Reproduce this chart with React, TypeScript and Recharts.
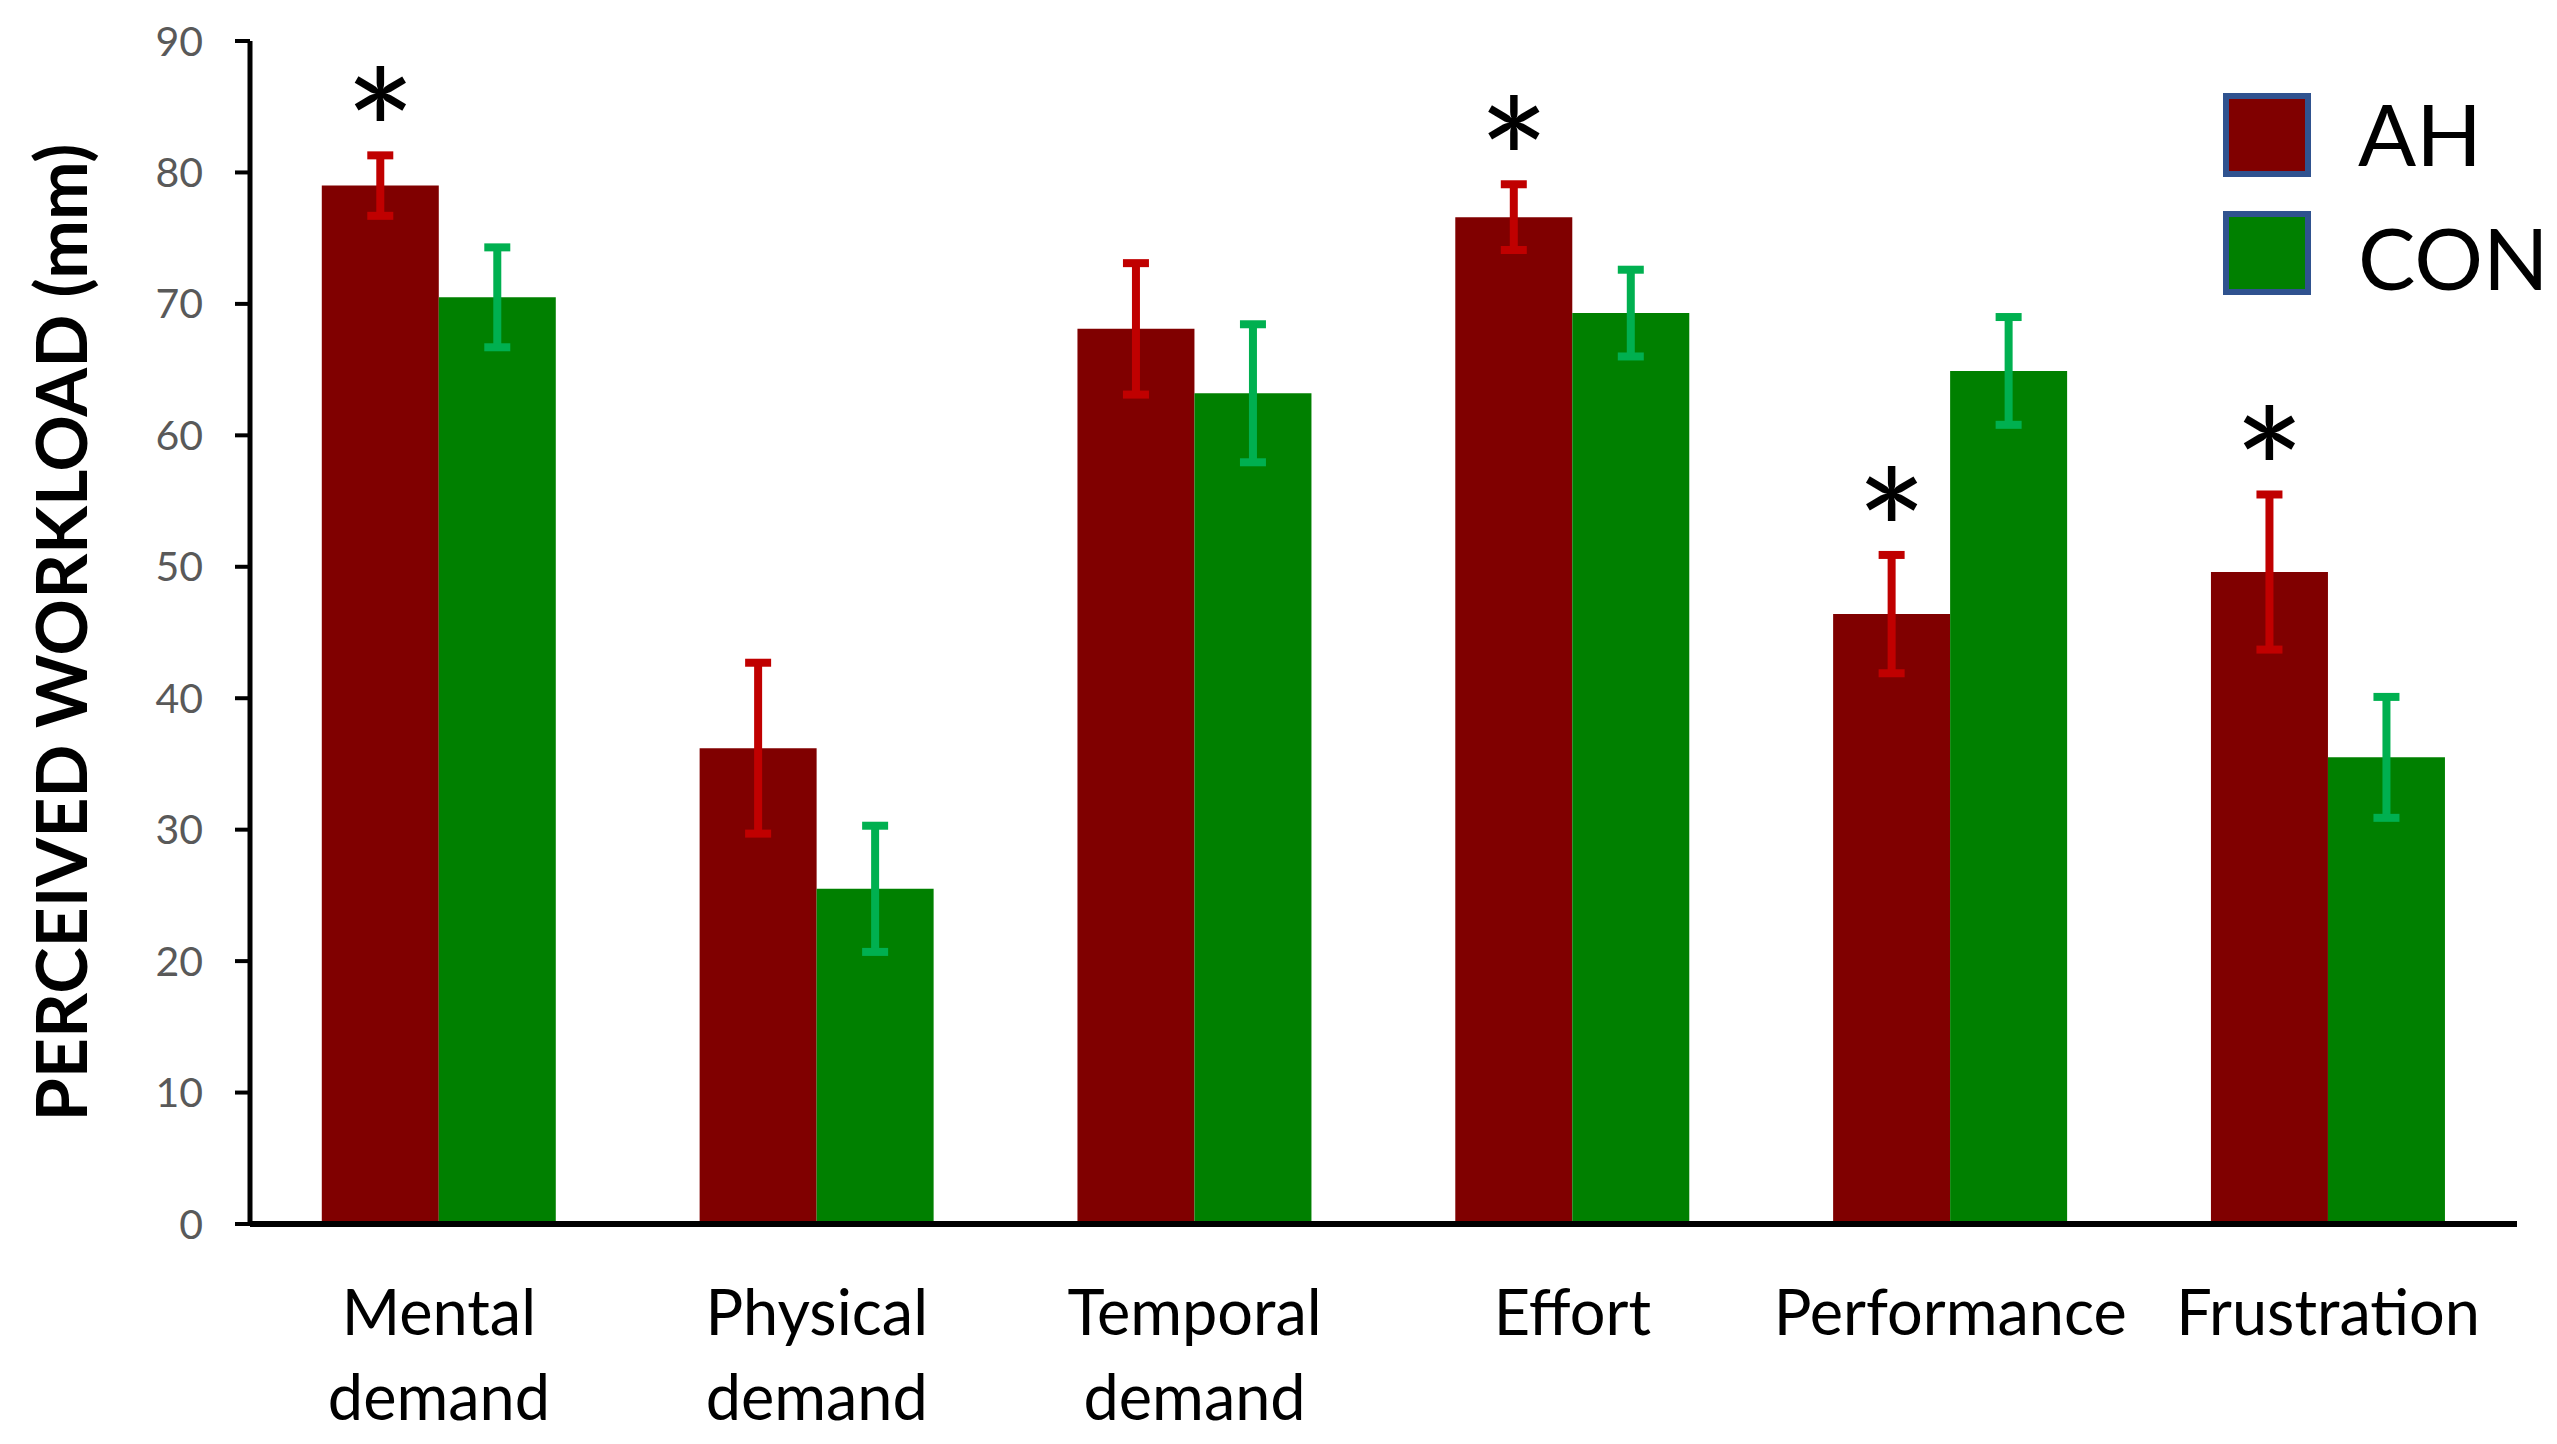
import { BarChart, Bar, XAxis, YAxis, ErrorBar, Legend } from 'recharts';

const categories = ['Mental demand', 'Physical demand', 'Temporal demand', 'Effort', 'Performance', 'Frustration'];
const ahMeans = [79.0, 36.2, 68.1, 76.6, 46.4, 49.6];
const ahErrors = [2.3, 6.5, 5.0, 2.5, 4.5, 5.9];
const conMeans = [70.5, 25.5, 63.2, 69.3, 64.9, 35.5];
const conErrors = [3.8, 4.8, 5.25, 3.3, 4.1, 4.6];
const ahSignificant = [true, false, false, true, true, true];
const yTicks = [0, 10, 20, 30, 40, 50, 60, 70, 80, 90];

const data = categories.map((category, i) => ({
  category,
  ah: ahMeans[i],
  ahErr: ahErrors[i],
  con: conMeans[i],
  conErr: conErrors[i],
}));

const FONT = "Lato, 'Open Sans', sans-serif";

const CategoryTick = (props: any) => {
  const { x, y, payload } = props;
  const words = String(payload.value).split(' ');
  const lines = words.length > 1 ? [words[0], words.slice(1).join(' ')] : words;
  return (
    <g>
      {lines.map((line, i) => (
        <text key={i} x={x} y={y + 109 + i * 85} textAnchor="middle" fontSize={63} fontFamily={FONT} fill="#000">
          {line}
        </text>
      ))}
    </g>
  );
};

// asterisk sits a fixed distance above the top error cap
const renderStar = (props: any) => {
  const { x, y, width, height, index } = props;
  if (!ahSignificant[index]) return null;
  const perUnit = height / ahMeans[index];
  const capY = y - ahErrors[index] * perUnit;
  return (
    <text x={x + width / 2} y={capY + 40} textAnchor="middle" fontSize={170} fontFamily={FONT} fill="#000">
      *
    </text>
  );
};

const renderTitle = (props: any) => {
  const { viewBox } = props;
  const cy = viewBox.y + viewBox.height / 2;
  return (
    <text
      x={87}
      y={cy}
      transform={`rotate(-90, 87, ${cy})`}
      textAnchor="middle"
      fontSize={71}
      fontWeight="bold"
      fontFamily={FONT}
      fill="#000"
      textLength={978}
      lengthAdjust="spacingAndGlyphs"
    >
      PERCEIVED WORKLOAD (mm)
    </text>
  );
};

const renderLegend = (props: any) => {
  const { payload } = props;
  return (
    <svg width={340} height={230} style={{ overflow: 'visible' }}>
      {(payload || []).map((entry: any, i: number) => (
        <g key={entry.value}>
          <rect x={3} y={3 + i * 118} width={82} height={78} fill={entry.color} stroke="#2F528F" strokeWidth={6} />
          <text x={135} y={73 + i * 124} fontSize={86} fontFamily={FONT} fill="#000">
            {entry.value}
          </text>
        </g>
      ))}
    </svg>
  );
};

export default function App() {
  return (
    <div style={{ position: 'absolute', left: 0, top: 0, width: 2557, height: 1444, background: '#fff' }}>
      <BarChart
        width={2557}
        height={1444}
        data={data}
        margin={{ top: 41, right: 40, left: 0, bottom: 0 }}
        barCategoryGap="19%"
        barGap={0}
      >
        <XAxis
          dataKey="category"
          interval={0}
          height={220}
          tickLine={false}
          tickSize={0}
          axisLine={{ stroke: '#000', strokeWidth: 6 }}
          tick={<CategoryTick />}
        />
        <YAxis
          width={250}
          domain={[0, 90]}
          ticks={yTicks}
          interval={0}
          tickSize={15}
          tickMargin={32}
          axisLine={{ stroke: '#000', strokeWidth: 5 }}
          tickLine={{ stroke: '#000', strokeWidth: 4 }}
          tick={{ fill: '#595959', fontSize: 41, fontFamily: FONT }}
          label={{ content: renderTitle }}
        />
        <Legend
          content={renderLegend}
          wrapperStyle={{ left: 2223, top: 93, width: 0, height: 0, bottom: 'auto', right: 'auto' }}
        />
        <Bar dataKey="ah" name="AH" fill="#800000" isAnimationActive={false} label={renderStar}>
          <ErrorBar dataKey="ahErr" width={13} strokeWidth={8} stroke="#C00000" />
        </Bar>
        <Bar dataKey="con" name="CON" fill="#008000" isAnimationActive={false}>
          <ErrorBar dataKey="conErr" width={13} strokeWidth={8} stroke="#00B050" />
        </Bar>
      </BarChart>
    </div>
  );
}
